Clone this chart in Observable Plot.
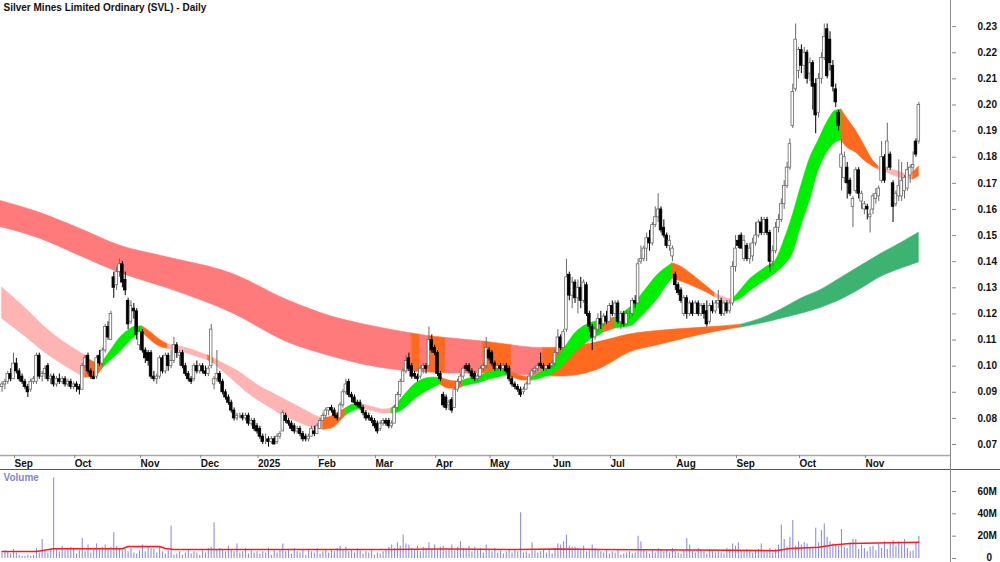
<!DOCTYPE html>
<html><head><meta charset="utf-8">
<script src="https://cdn.jsdelivr.net/npm/d3@7"></script>
<script src="https://cdn.jsdelivr.net/npm/@observablehq/plot@0.6"></script>
<style>
html,body{margin:0;padding:0;background:#fff;}
#wrap{position:relative;width:1000px;height:562px;overflow:hidden;font-family:"Liberation Sans",Arial,sans-serif;}
#price,#vol{position:absolute;left:0;}
#price{top:0;} #vol{top:470px;}
#vline{position:absolute;left:950px;top:0;width:1px;height:562px;background:#8a8a8a;}
#sep{position:absolute;left:0;top:469px;width:1000px;height:1px;background:#555;}
</style></head><body>
<div id="wrap"><div id="price"></div><div id="vol"></div><div id="sep"></div><div id="vline"></div></div>
<script>
// Prices in thousandths of A$ (93 = $0.093); trading-day index, 0 = 2 Sep 2024
const firstDay = -4;
const opens = [
92,93,94,97,95,101,98,96,94,92,
91,94,94,104,96,97,100,95,96,93,
95,94,95,93,94,92,93,92,91,100,
104,98,96,96,104,101,106,115,110,134,
131,136,139,133,125,117,122,121,108,113,
106,105,105,96,95,96,103,98,104,100,
102,108,104,105,100,97,95,95,100,98,
100,98,97,100,93,95,97,94,90,88,
86,83,80,81,81,80,81,78,79,77,
76,73,72,72,71,72,71,73,75,81,
79,78,77,75,76,74,73,72,73,75,
74,76,79,81,83,84,83,81,80,85,
90,94,89,88,86,86,84,82,81,80,
79,78,76,78,79,79,77,78,84,89,
94,98,103,100,97,96,96,99,100,100,
110,107,105,97,89,88,85,87,84,91,
94,96,100,100,98,97,95,96,99,100,
106,105,101,99,100,99,100,99,95,93,
92,91,90,91,93,96,98,99,101,100,
99,100,100,101,105,111,107,114,135,127,
132,126,130,125,131,120,115,111,114,118,
116,119,117,123,120,124,117,120,116,120,
120,125,124,140,141,145,149,147,154,157,
160,153,150,146,142,135,131,129,120,126,
120,124,120,124,120,123,121,117,123,121,
124,125,120,124,121,124,138,148,150,141,
146,141,142,147,150,155,151,156,151,140,
144,153,156,162,169,176,192,206,213,221,
215,220,212,216,208,197,210,218,229,225,
215,206,197,176,172,176,171,161,167,175,
163,160,161,157,160,164,165,171,180,176,
181,170,162,165,165,167,168,173,176,186,
186];
const highs = [
94,95,98,99,105,103,99,97,95,93,
95,96,105,105,98,100,101,97,97,96,
97,96,96,95,95,94,94,93,101,104,
105,99,98,104,106,107,116,117,121,136,
138,141,140,136,126,125,124,122,115,114,
107,106,106,98,97,104,104,105,105,106,
111,109,106,106,101,98,96,101,102,101,
101,100,100,116,96,106,98,95,91,89,
87,84,82,82,82,82,82,80,80,78,
77,74,74,73,73,73,74,75,83,82,
80,79,78,77,77,75,74,74,77,77,
78,80,82,84,84,85,84,82,86,91,
95,95,90,89,87,87,85,83,82,81,
80,79,79,80,80,80,79,85,90,95,
99,104,105,101,98,97,100,101,101,115,
112,108,106,98,90,89,87,88,92,95,
97,100,101,101,99,98,97,100,101,111,
107,106,102,101,101,101,101,100,96,94,
93,92,92,94,97,99,100,101,105,101,
100,101,102,106,114,112,114,141,136,134,
133,133,134,133,132,121,116,115,120,121,
120,121,124,125,125,125,121,121,121,121,
126,127,141,146,146,151,152,155,161,166,
161,156,151,150,146,136,132,130,127,127,
125,125,125,125,124,124,125,124,125,125,
129,126,125,125,125,140,150,150,151,150,
147,147,149,155,156,157,157,157,152,146,
155,158,164,171,178,187,208,231,222,223,
222,221,218,217,210,212,220,231,231,228,
217,208,198,187,182,178,172,165,176,176,
167,163,162,160,166,168,169,186,181,193,
182,171,167,179,178,173,178,177,182,187,
201];
const lows = [
90,91,93,94,95,97,94,93,91,88,
90,93,93,95,94,95,94,93,92,92,
93,93,92,92,91,91,90,89,91,99,
97,95,95,95,100,100,105,110,110,126,
129,134,130,127,114,116,118,110,106,105,
101,100,95,94,93,95,97,97,98,99,
101,103,100,99,96,94,93,94,97,97,
97,96,96,99,91,94,93,89,87,85,
82,79,79,80,79,79,77,77,75,74,
72,70,70,69,70,70,70,72,75,78,
77,75,74,74,73,71,71,71,73,73,
74,76,79,80,81,82,80,79,80,84,
89,88,86,85,84,83,81,79,79,78,
76,74,75,77,77,76,76,78,83,88,
94,97,98,95,95,94,95,97,97,100,
105,104,96,94,84,83,83,82,84,90,
93,95,98,97,95,94,94,96,98,99,
102,100,98,98,98,98,97,94,92,91,
90,88,89,91,93,96,97,98,99,98,
98,99,99,100,104,106,107,113,125,122,
124,120,122,124,119,113,106,110,113,114,
115,116,117,119,119,116,114,115,116,118,
119,122,124,139,140,140,144,146,153,155,
151,149,145,144,140,129,127,124,119,118,
119,119,120,119,119,118,115,116,120,120,
122,119,119,120,120,123,136,145,145,140,
140,139,140,146,149,150,150,150,136,138,
143,151,155,160,168,175,191,205,210,212,
210,208,209,198,189,195,208,217,210,213,
205,199,190,167,170,164,165,153,166,164,
160,158,156,151,158,162,163,170,170,175,
175,155,161,163,163,164,167,170,174,180,
185];
const closes = [
93,94,97,95,101,98,95,94,92,90,
94,95,104,96,97,99,95,96,93,95,
94,95,93,94,92,93,92,91,100,103,
98,96,95,103,101,106,115,111,120,130,
136,139,132,129,116,123,121,112,113,106,
103,102,96,95,96,103,98,104,100,102,
108,105,105,100,97,95,94,100,98,100,
98,97,99,114,95,97,94,90,88,86,
83,80,81,81,80,81,78,79,76,75,
73,71,72,71,72,70,73,74,82,79,
78,76,75,76,74,72,72,73,76,74,
77,79,81,83,84,83,81,80,85,90,
93,89,88,86,85,84,82,80,80,79,
77,75,78,79,78,77,78,84,89,94,
98,102,99,96,96,95,99,100,99,110,
106,105,97,95,85,84,86,83,91,94,
96,99,99,98,96,95,96,99,100,107,
103,101,99,100,99,100,98,95,93,92,
91,89,91,93,96,98,99,100,100,99,
100,99,101,105,111,107,113,134,127,132,
126,130,125,132,120,115,111,114,118,116,
119,117,123,120,124,117,120,116,120,120,
125,124,139,141,145,149,147,154,157,160,
152,150,146,148,145,131,128,125,126,120,
124,120,124,120,123,120,116,123,121,124,
125,120,124,121,124,138,145,146,145,148,
141,145,147,150,155,151,156,151,140,144,
153,156,162,169,176,185,205,225,221,215,
220,210,216,207,196,210,218,226,211,216,
207,201,192,181,180,170,166,164,175,166,
166,162,160,158,165,166,168,180,171,186,
176,161,166,169,171,172,175,176,177,181,
200];
// Volume, millions of shares
const volumes = [
5,7,6,4,8,5,3,2,2,3,
2,3,9,5,17,6,5,8,72,9,
6,11,7,9,10,8,4,7,18,6,
12,5,9,13,7,10,12,8,10,23,
11,9,7,8,6,9,5,4,7,12,
6,11,9,8,5,10,6,4,7,29,
3,4,6,3,5,8,4,6,5,3,
7,5,9,10,32,8,9,7,6,11,
8,6,13,5,6,9,4,7,5,6,
4,6,5,9,3,7,5,8,13,6,
7,4,9,6,5,8,3,7,6,5,
9,4,6,7,5,8,6,9,11,7,
10,6,8,5,9,7,4,6,5,8,
3,5,4,6,7,10,12,9,14,11,
21,13,12,9,8,11,6,10,9,14,
8,12,7,10,11,9,8,12,7,10,
15,9,8,11,6,10,7,9,5,12,
8,6,9,5,7,4,6,8,5,7,
6,41,5,6,4,14,7,5,6,8,
5,7,4,9,13,12,15,21,11,10,
10,9,8,11,6,7,12,9,8,6,
5,7,4,6,5,7,3,4,5,6,
4,5,20,15,8,6,4,7,5,9,
7,6,8,5,9,6,5,4,7,18,
12,6,5,9,7,6,4,8,6,5,
6,5,4,9,8,13,11,14,7,6,
8,6,5,7,8,13,7,6,9,5,
8,12,30,17,10,19,34,11,15,12,
14,13,9,10,27,14,25,31,19,15,
13,12,11,26,10,9,14,17,17,8,
12,9,6,10,11,7,13,9,15,8,
13,16,11,15,12,17,9,6,7,14,
20];
// Volume moving average (millions), read at sample days
const volMaDays = [-4,8,14,38,40,51,53,56,130,150,175,190,205,251,266,271,281,286,292,316];
const volMaVals = [6.3,6.3,8.7,8.7,10.8,10.8,9,8,8,8.5,8,8.5,8,7.5,7,9,10,12,13.5,14.5];
// Long-term moving-average ribbon (thousandths), sampled
const longDays = [-5,9,23,37,54,76,96,111,124,139,142,145,151,153,164,167,174,181,185,191,198,205,215,226,236,247,254,261,268,275,282,289,296,303,310,316];
const longHigh = [163.4,158.8,152.7,146.2,141.6,135.5,125.1,119.0,115.6,112.5,112.0,111.5,110.8,110.6,109.4,109.0,108.0,107.1,107.0,107.1,107.9,109.4,112.1,113.6,114.4,115.2,115.9,118.2,121.7,125.9,129.3,133.9,138.5,143.1,147.3,151.1];
const longLow = [153.4,148.9,142.3,135.8,129.7,120.5,109.0,103.7,100.2,97.9,97.8,97.6,97.3,97.2,97.2,97.2,96.8,96.4,96.2,96.0,96.8,99.1,105.2,108.3,111.0,113.6,114.8,116.3,118.2,120.1,122.4,125.5,129.7,134.3,137.4,139.7];
const longState = ["down","down","down","down","down","down","down","down","down","mixed","down","mixed","down","down","mixed","mixed","down","down","mixed","mixed","mixed","mixed","mixed","mixed","mixed","mixed","up","up","up","up","up","up","up","up","up","up"];
// Short-term moving-average ribbon (thousandths), sampled
const shortDays = [-4,0,5,10,15,20,25,29,31,34,37,40,43,45,48,51,54,58,62,66,68,70,74,78,82,86,90,94,98,102,106,108,111,114,116,119,122,126,129,132,134,137,140,143,146,149,152,155,157,160,163,166,169,172,175,178,181,184,187,190,193,196,199,202,205,206,210,213,216,219,222,225,228,230,233,236,239,242,245,248,251,254,257,260,263,266,269,272,275,278,281,284,287,289,291,294,297,300,302,305,308,311,314,316];
const shortHigh = [130.1,126.3,121.3,115.9,111.3,107.5,104.1,101.4,101.4,106.0,110.6,113.6,115.2,115.2,112.9,110.2,108.3,107.5,106.4,104.8,104.1,102.9,100.6,98.3,95.3,92.2,89.9,87.6,85.3,83.0,80.7,80.0,80.7,82.6,83.8,85.3,85.3,84.2,83.4,83.8,85.7,89.5,93.0,94.9,95.6,95.6,94.5,94.1,94.5,95.6,96.4,97.6,98.3,98.3,97.2,96.0,95.6,97.6,99.9,103.3,107.9,112.5,115.2,116.7,117.5,117.8,118.6,120.5,123.2,127.0,131.2,135.1,137.8,139.3,138.1,135.8,133.2,130.5,127.8,126.3,125.5,129.3,133.2,135.8,138.1,140.4,148.1,157.7,169.1,179.5,186.4,193.3,197.8,198.2,194.8,190.2,184.5,178.7,176.4,175.3,174.9,173.7,174.1,176.4];
const shortLow = [118.2,114.8,110.6,106.0,102.2,98.7,95.6,96.4,99.1,102.2,105.2,108.7,111.7,112.9,109.8,107.5,106.7,105.6,104.4,102.9,102.2,101.0,97.2,93.3,89.5,86.5,83.8,81.1,79.2,77.3,76.1,75.7,76.1,78.8,81.1,83.0,83.8,82.6,81.9,81.9,82.2,84.2,87.2,89.5,91.4,93.0,91.4,91.4,92.2,93.0,93.7,94.9,95.6,96.4,95.3,94.5,94.5,95.3,96.4,98.3,101.4,105.2,107.9,110.6,112.1,112.9,114.4,114.8,115.6,118.6,122.1,125.9,130.9,133.5,132.4,131.2,129.7,128.2,126.3,125.1,124.4,125.9,128.6,130.9,133.2,135.5,138.5,143.1,153.8,163.4,174.9,181.8,185.6,186.4,183.7,181.8,178.7,176.4,175.3,174.1,172.6,171.8,171.4,172.6];
const shortState = ["down","down","down","down","down","down","mixed","mixed","up","up","up","up","up","mixed","mixed","mixed","down","down","down","down","mixed","down","down","down","down","down","down","down","down","down","down","mixed","mixed","mixed","up","up","down","down","down","up","up","up","up","up","up","mixed","mixed","mixed","up","up","up","up","up","mixed","mixed","mixed","up","up","up","up","up","up","up","up","up","mixed","up","up","up","up","up","up","up","mixed","mixed","mixed","mixed","mixed","down","down","up","up","up","up","up","up","up","up","up","up","up","up","up","mixed","mixed","mixed","mixed","mixed","down","down","down","down","mixed","mixed"];
// Axis labels
const monthDays = [0,21,44,65,85,106,126,147,166,188,208,231,252,274,297];
const monthLabels = ["Sep","Oct","Nov","Dec","2025","Feb","Mar","Apr","May","Jun","Jul","Aug","Sep","Oct","Nov"];
const priceTicks = [70,80,90,100,110,120,130,140,150,160,170,180,190,200,210,220,230];
const volTicks = [0,20,40,60];
const volZeroLabel = "0";
const title = "Silver Mines Limited Ordinary (SVL) - Daily";

const longColors = {down: "#ff7b7b", mixed: "#ff6a1f", up: "#3cb371"};
const shortColors = {down: "#ffb4b4", mixed: "#ff6a1f", up: "#00ee00"};

function ribbonRuns(days, hi, lo, state, colors) {
  const out = []; let run = -1;
  for (let k = 0; k < days.length - 1; k++) {
    if (k === 0 || state[k] !== state[k - 1]) {
      run++;
      out.push({r: run, i: days[k], hi: hi[k], lo: lo[k], c: colors[state[k]]});
    }
    out.push({r: run, i: days[k + 1], hi: hi[k + 1], lo: lo[k + 1], c: colors[state[k]]});
  }
  return out;
}
const candles = opens.map((o, k) => ({i: firstDay + k, o, h: highs[k], l: lows[k], c: closes[k]}));
const vols = volumes.map((v, k) => ({i: firstDay + k, v}));
const volMa = volMaDays.map((d, k) => ({i: d, v: volMaVals[k]}));
const longRuns = ribbonRuns(longDays, longHigh, longLow, longState, longColors);
const shortRuns = ribbonRuns(shortDays, shortHigh, shortLow, shortState, shortColors);

const xDomain = [-4.54, 327.4];
const font = {fontFamily: "'Liberation Sans', Arial, sans-serif", fontSize: "10px", background: "transparent", overflow: "visible"};

const pricePlot = Plot.plot({
  width: 1000, height: 470,
  marginLeft: 0, marginRight: 49, marginTop: 0, marginBottom: 15,
  x: {domain: xDomain, axis: null},
  y: {domain: [65.8, 240], axis: null},
  color: {type: "identity"},
  style: font,
  marks: [
    Plot.areaY(longRuns, {x: "i", y1: "lo", y2: "hi", z: "r", fill: "c", stroke: "c", strokeWidth: 0.6, curve: "monotone-x"}),
    Plot.areaY(shortRuns, {x: "i", y1: "lo", y2: "hi", z: "r", fill: "c", stroke: "c", strokeWidth: 0.6, curve: "monotone-x"}),
    Plot.ruleX(candles, {x: "i", y1: "l", y2: "h", stroke: d => d.c >= d.o ? "#6a6a6a" : "#000", strokeWidth: 1}),
    Plot.rect(candles, {x1: d => d.i - 0.45, x2: d => d.i + 0.45, y1: "o", y2: "c",
      fill: d => d.c >= d.o ? "#fff" : "#000", stroke: d => d.c >= d.o ? "#6a6a6a" : "#000", strokeWidth: 0.8}),
    Plot.ruleY([65.8], {stroke: "#a8a8a8", strokeWidth: 1.6}),
    Plot.axisX({anchor: "bottom", label: null, ticks: monthDays, tickFormat: d => monthLabels[monthDays.indexOf(d)],
      tickSize: 3, tickPadding: 1, textAnchor: "start", dx: 1, fontWeight: "bold", fontSize: 10, stroke: "#888", fill: "#111"}),
    Plot.axisY({anchor: "right", label: null, ticks: priceTicks, tickFormat: d => (d / 1000).toFixed(2),
      tickSize: 4, tickPadding: 22, fontWeight: "bold", fontSize: 10, stroke: "#888", fill: "#111"}),
    Plot.text([title], {frameAnchor: "top-left", dx: 3, dy: 3, lineAnchor: "top", textAnchor: "start",
      fontWeight: "bold", fontSize: 10, fill: "#111"})
  ]
});
document.getElementById("price").append(pricePlot);

const volPlot = Plot.plot({
  width: 1000, height: 92,
  marginLeft: 0, marginRight: 49, marginTop: 0, marginBottom: 0,
  x: {domain: xDomain, axis: null},
  y: {domain: [-3.58, 78.8], axis: null},
  color: {type: "identity"},
  style: font,
  marks: [
    Plot.ruleX(vols, {x: "i", y1: 0, y2: "v", stroke: "#9090da", strokeWidth: 1.1}),
    Plot.line(volMa, {x: "i", y: "v", stroke: "#ff1a1a", strokeWidth: 1.5}),
    Plot.axisY({anchor: "right", label: null, ticks: volTicks, tickFormat: d => d === 0 ? "" : d + "M",
      tickSize: 4, tickPadding: 22, fontWeight: "bold", fontSize: 10, stroke: "#888", fill: "#111"}),
    Plot.text([volZeroLabel], {frameAnchor: "bottom-right", dx: 35, dy: -2, lineAnchor: "bottom", textAnchor: "start",
      fontWeight: "bold", fontSize: 10, fill: "#111"}),
    Plot.text(["Volume"], {frameAnchor: "top-left", dx: 3, dy: 3, lineAnchor: "top", textAnchor: "start",
      fontWeight: "bold", fontSize: 10, fill: "#8686c8"})
  ]
});
document.getElementById("vol").append(volPlot);
</script>
</body></html>
